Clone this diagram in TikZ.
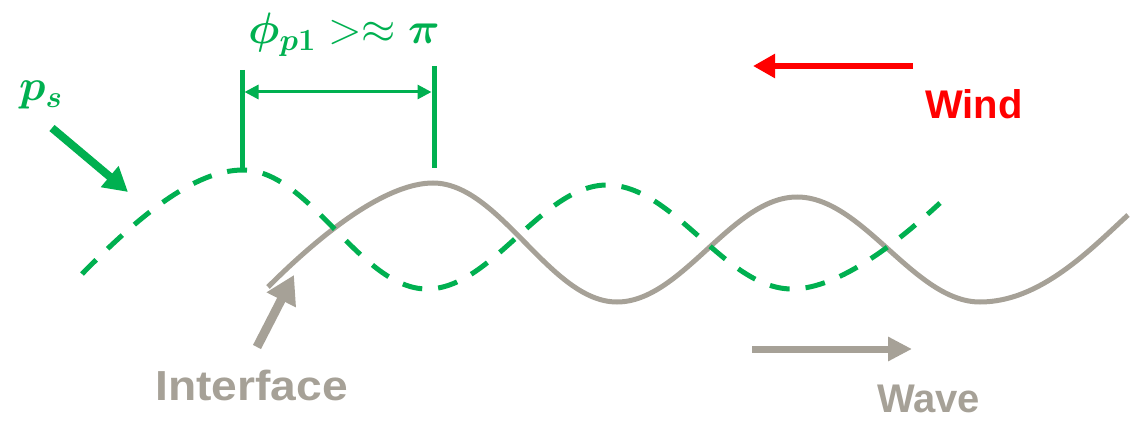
\RequirePackage{fix-cm}
\documentclass[tikz,border=0pt]{standalone}
\usepackage{amsmath,bm}
\usepackage[no-math]{fontspec}
\newfontfamily\labelsans{Liberation Sans}
\usetikzlibrary{arrows.meta}

\definecolor{pgreen}{RGB}{0,176,80}
\definecolor{igray}{RGB}{166,161,151}
\definecolor{wred}{RGB}{255,0,0}

\tikzset{
  surface/.style={draw=igray, line width=5pt},
  pressure/.style={draw=pgreen, line width=5pt, dash pattern=on 20pt off 16pt},
  phasebar/.style={draw=pgreen, line width=5pt},
  phasespan/.style={draw=pgreen, line width=3pt,
    {Triangle[length=14pt,width=14pt]}-{Triangle[length=14pt,width=14pt]}},
  fatarrow/.style={line width=#1},
  sanslabel/.style={anchor=base west, inner sep=0pt,
    font=\labelsans\bfseries\fontsize{40}{48}\selectfont},
  mathlabel/.style={anchor=base west, inner sep=0pt, text=pgreen,
    font=\fontsize{44}{52}\selectfont},
}

\begin{document}
\begin{tikzpicture}[x=1pt,y=-1pt]
\useasboundingbox (0,0) rectangle (1140,425);

% interface (solid grey wave)
\draw[surface] (268,287) .. controls (330,225) and (390,183) .. (433,183)
  .. controls (500,183) and (550,302) .. (617,302)
  .. controls (682,302) and (732,197) .. (797,197)
  .. controls (863,197) and (914,302) .. (980,302)
  .. controls (1040,302) and (1090,250) .. (1128,215);

% surface pressure (dashed green wave)
\draw[pressure] (82,274) .. controls (140,215) and (195,170) .. (243,170)
  .. controls (310,170) and (360,289) .. (427,289)
  .. controls (492,289) and (542,185) .. (607,185)
  .. controls (674,185) and (725,289) .. (792,289)
  .. controls (840,289) and (900,240) .. (940,203);

% phase shift marker
\coordinate (barLtop) at (242,70);
\coordinate (barLbot) at (242,170);
\coordinate (barRtop) at (434,66);
\coordinate (barRbot) at (434,168);
\coordinate (spanL) at (244.5,92);
\coordinate (spanR) at (431.5,92);
\draw[phasebar] (barLtop) -- (barLbot);
\draw[phasebar] (barRtop) -- (barRbot);
\draw[phasespan] (spanL) -- (spanR);
\node[mathlabel] (phase) at (248,44) {$\bm{\phi_{p1}}>\approx\bm{\pi}$};

% p_s label and pointer
\node[mathlabel] (ps) at (19,101) {$\bm{p_s}$};
\coordinate (psTail) at (52,128);
\coordinate (psTip) at (128,192);
\draw[pgreen, fatarrow=8pt, -{Triangle[length=24pt,width=26pt]}] (psTail) -- (psTip);

% wind
\coordinate (windTail) at (913,66);
\coordinate (windTip) at (753,66);
\draw[wred, fatarrow=6pt, -{Triangle[length=22pt,width=23pt]}] (windTail) -- (windTip);
\node[sanslabel, text=wred] (wind) at (925,119) {Wind};

% wave direction
\coordinate (waveTail) at (752,349);
\coordinate (waveTip) at (912,349);
\draw[igray, fatarrow=7pt, -{Triangle[length=24pt,width=23pt]}] (waveTail) -- (waveTip);
\node[sanslabel, text=igray] (wave) at (877,412) {Wave};

% interface pointer
\coordinate (ifTail) at (257,347);
\coordinate (ifTip) at (294,275);
\draw[igray, fatarrow=9pt, -{Triangle[length=28pt,width=31pt]}] (ifTail) -- (ifTip);
\node[sanslabel, text=igray, font=\labelsans\bfseries\fontsize{42}{50}\selectfont] (interface) at (155,400) {\scalebox{1.1}[1]{Interface}};
\end{tikzpicture}
\end{document}
